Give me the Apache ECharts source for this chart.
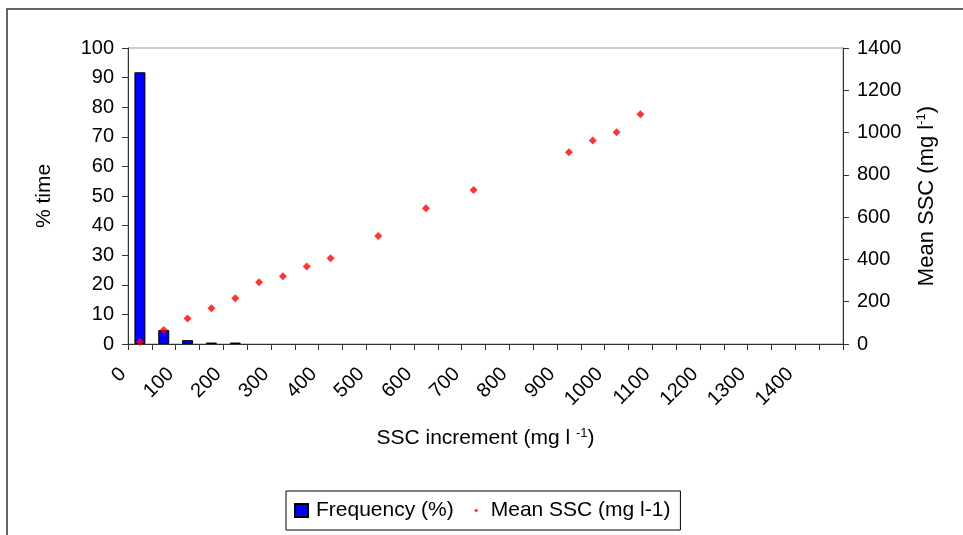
<!DOCTYPE html>
<html>
<head>
<meta charset="utf-8">
<script src="https://cdn.jsdelivr.net/npm/echarts@6/dist/echarts.min.js"></script>
<style>
  html, body { margin: 0; padding: 0; background: #fff; }
  #chart { width: 963px; height: 535px; }
</style>
</head>
<body>
<div id="chart"></div>
<script>
// SSC increment classes (mg l-1), one every 50
const categories = ['0','50','100','150','200','250','300','350','400','450','500','550','600','650','700',
  '750','800','850','900','950','1000','1050','1100','1150','1200','1250','1300','1350','1400','1450'];

// Frequency of occurrence of each class (% of time)
const frequency = [91.8, 4.7, 1.3, 0.5, 0.5, '-', '-', '-', '-', '-', '-', '-', '-', '-', '-',
  '-', '-', '-', '-', '-', '-', '-', '-', '-', '-', '-', '-', '-', '-', '-'];

// Mean SSC within each class (mg l-1)
const meanSSC = [10, 66, 121, 169, 216, 292, 320, 367, 405, '-', 511, '-', 642, '-', 728,
  '-', '-', '-', 907, 963, 1001, 1087, '-', '-', '-', '-', '-', '-', '-', '-'];

const FONT = '"Liberation Sans", Arial, sans-serif';
const AXIS_COLOR = '#333';

const chart = echarts.init(document.getElementById('chart'), null, { renderer: 'canvas' });

chart.setOption({
  animation: false,
  backgroundColor: '#fff',
  textStyle: { fontFamily: FONT, color: '#000' },
  graphic: [{
    type: 'rect',
    shape: { x: 7, y: 9, width: 1200, height: 800 },
    style: { fill: 'none', stroke: '#333', lineWidth: 1.5 },
    silent: true
  }],
  grid: {
    left: 128, right: 120, top: 48, bottom: 191,
    show: true, borderColor: '#999', borderWidth: 1, backgroundColor: 'transparent'
  },
  legend: {
    left: 286, top: 491,
    orient: 'horizontal',
    borderColor: '#000', borderWidth: 1,
    padding: [9, 10, 9, 8],
    itemWidth: 13, itemHeight: 13, itemGap: 16,
    textStyle: { fontFamily: FONT, fontSize: 21, color: '#000', padding: [0, 0, 0, 3] },
    data: [
      { name: 'Frequency (%)', icon: 'rect' },
      { name: 'Mean SSC (mg l-1)',
        icon: 'path://M0,0L0.01,0L0.01,0.01ZM10,10L9.99,10L9.99,9.99ZM5,3.4L6.6,5L5,6.6L3.4,5Z' }
    ]
  },
  xAxis: {
    type: 'category',
    data: categories,
    boundaryGap: true,
    axisLine: { lineStyle: { color: AXIS_COLOR, width: 1 } },
    axisTick: { show: true, interval: 0, length: 6, lineStyle: { color: AXIS_COLOR } },
    axisLabel: {
      interval: 1, rotate: 45, margin: 10,
      padding: [0, 24, 0, 0],
      fontFamily: FONT, fontSize: 20, color: '#000'
    },
    splitLine: { show: false },
    name: 'SSC increment (mg l {sup|-1})',
    nameLocation: 'middle',
    nameGap: 83,
    nameTextStyle: {
      fontFamily: FONT, fontSize: 21, color: '#000', verticalAlign: 'top',
      rich: { sup: { fontFamily: FONT, fontSize: 13, color: '#000', verticalAlign: 'top', lineHeight: 23 } }
    }
  },
  yAxis: [{
    type: 'value',
    min: 0, max: 100, interval: 10,
    position: 'left',
    axisLine: { show: true, lineStyle: { color: AXIS_COLOR, width: 1 } },
    axisTick: { show: true, length: 6, lineStyle: { color: AXIS_COLOR } },
    axisLabel: { margin: 14, fontFamily: FONT, fontSize: 20, color: '#000' },
    splitLine: { show: false },
    name: '% time',
    nameLocation: 'middle',
    nameGap: 73,
    nameTextStyle: { fontFamily: FONT, fontSize: 21, color: '#000' }
  }, {
    type: 'value',
    min: 0, max: 1400, interval: 200,
    position: 'right',
    axisLine: { show: true, lineStyle: { color: AXIS_COLOR, width: 1 } },
    axisTick: { show: true, length: 6, lineStyle: { color: AXIS_COLOR } },
    axisLabel: {
      margin: 14, fontFamily: FONT, fontSize: 20, color: '#000',
      formatter: v => String(v)
    },
    splitLine: { show: false },
    name: 'Mean SSC (mg l{sup|-1})',
    nameLocation: 'middle',
    nameGap: 72,
    nameTextStyle: {
      fontFamily: FONT, fontSize: 22, color: '#000',
      rich: { sup: { fontFamily: FONT, fontSize: 13, color: '#000', verticalAlign: 'top', lineHeight: 24 } }
    }
  }],
  series: [{
    name: 'Frequency (%)',
    type: 'bar',
    yAxisIndex: 0,
    data: frequency,
    barWidth: 11,
    itemStyle: { color: '#0000FF', borderColor: '#000', borderWidth: 1 },
    z: 2
  }, {
    name: 'Mean SSC (mg l-1)',
    type: 'scatter',
    yAxisIndex: 1,
    data: meanSSC,
    symbol: 'diamond',
    symbolSize: 8,
    itemStyle: { color: '#FF0000' },
    z: 3
  }]
});
</script>
</body>
</html>
